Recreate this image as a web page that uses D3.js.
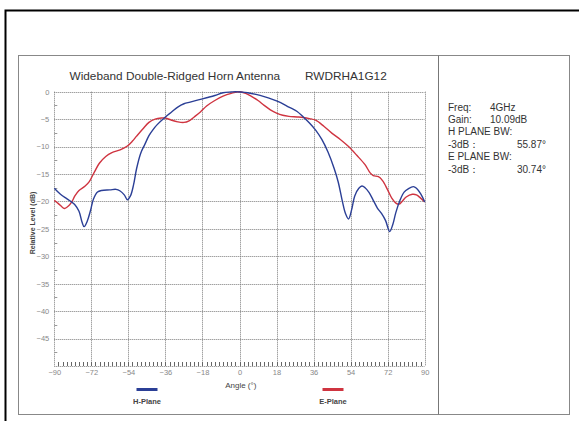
<!DOCTYPE html>
<html><head><meta charset="utf-8">
<script src="https://cdn.jsdelivr.net/npm/d3@7/dist/d3.min.js"></script>
<style>
html,body{margin:0;padding:0;background:#fff;}
svg{display:block;font-family:"Liberation Sans",Arial,sans-serif;}
</style></head>
<body><svg id="c" width="579" height="421"></svg>
<script>
const titleText = "Wideband Double-Ridged Horn Antenna";
const modelText = "RWDRHA1G12";
const xTicks = [-90,-72,-54,-36,-18,0,18,36,54,72,90];
const yTicks = [0,-5,-10,-15,-20,-25,-30,-35,-40,-45];
const hAngles = [-90,-87,-84,-82,-80,-78,-76.5,-75.5,-74,-72.5,-71,-69,-67,-63,-60,-58,-56,-54.5,-53,-51.5,-50,-48,-46,-44,-42,-40,-36,-33,-30,-27,-24,-20,-16,-12,-8,-4,-2,0,4,8,12,16,20,24,28,31,34,37,40,43,46,48,50,51.5,53,54.5,56,58,59.5,61,63,65,67,69,71,73,74.5,76,78,80,82,84.5,86,88,90];
const hValues = [-17.6,-18.7,-19.5,-20.0,-20.6,-21.8,-23.8,-24.6,-23.6,-21.8,-19.6,-18.3,-18.0,-17.9,-17.8,-18.1,-18.8,-19.7,-19.0,-17.0,-14.0,-11.2,-9.6,-8.0,-6.9,-6.0,-4.6,-3.7,-2.8,-2.2,-1.9,-1.5,-1.1,-0.7,-0.2,-0.05,0,-0.05,-0.2,-0.5,-0.9,-1.4,-2.0,-2.8,-3.6,-4.6,-5.7,-7.0,-8.7,-11.0,-14.0,-16.5,-20.0,-22.2,-23.2,-21.5,-19.0,-17.6,-17.2,-17.5,-18.4,-19.8,-21.2,-22.2,-23.5,-25.5,-24.2,-22.0,-19.8,-18.3,-17.7,-17.3,-17.6,-18.6,-20.1];
const eAngles = [-90,-88,-86,-85,-83,-81.5,-80,-78,-75,-73,-71,-68,-65,-62,-58,-54.5,-52,-50,-47,-44,-41,-38,-36,-33,-30,-27,-24.5,-22,-19,-16,-12,-8,-4,0,3,6,9,12,15,18,21,24,28,31,34,37,41,45,49,53,57,61,63.5,65,67.5,69.5,72,74,76,77.5,79,81,84,86,88,90];
const eValues = [-19.8,-20.4,-21.1,-21.3,-20.8,-20.1,-19.0,-18.0,-17.2,-16.4,-15.0,-13.0,-11.8,-11.1,-10.6,-9.9,-9.0,-8.1,-6.8,-5.6,-5.0,-4.8,-4.8,-5.2,-5.5,-5.6,-5.3,-4.6,-3.7,-2.6,-1.6,-0.8,-0.3,0,-0.3,-0.9,-1.6,-2.5,-3.3,-3.9,-4.3,-4.5,-4.6,-4.7,-4.9,-5.2,-6.3,-7.6,-8.7,-10.0,-11.6,-13.3,-14.8,-15.3,-15.5,-16.2,-17.9,-19.4,-20.3,-20.5,-20.0,-19.2,-18.7,-18.8,-19.4,-20.1];
const seriesNames = ["H-Plane","E-Plane"];
const seriesColors = ["#2b3f96","#cf3440"];
const infoLabels = ["Freq:","Gain:","H PLANE BW:","-3dB\uFF1A","E PLANE BW:","-3dB\uFF1A"];
const infoValues = ["4GHz","10.09dB","","55.87\u00B0","","30.74\u00B0"];

const svg = d3.select("#c");
// outer frame
svg.append("rect").attr("x",5.5).attr("y",10.5).attr("width",600).attr("height",420)
  .attr("fill","none").attr("stroke","#000").attr("stroke-width",2);
// inner box
svg.append("rect").attr("x",18.5).attr("y",55.5).attr("width",551).attr("height",359)
  .attr("fill","none").attr("stroke","#888").attr("stroke-width",1);
svg.append("line").attr("x1",438.5).attr("x2",438.5).attr("y1",55.5).attr("y2",414.5)
  .attr("stroke","#777").attr("stroke-width",1);

const x = d3.scaleLinear().domain([-90,90]).range([54.3,424.7]);
const y = d3.scaleLinear().domain([0,-50]).range([91.7,366]);

// grid
const g = svg.append("g");
g.selectAll(".vg").data(xTicks).join("line")
  .attr("x1",d=>Math.round(x(d))+0.5).attr("x2",d=>Math.round(x(d))+0.5)
  .attr("y1",y(0)).attr("y2",y(-50))
  .attr("stroke","#7a7a7a").attr("stroke-width",1).attr("stroke-dasharray","1,1");
g.selectAll(".hg").data(yTicks).join("line")
  .attr("x1",x(-90)).attr("x2",x(90))
  .attr("y1",d=>Math.round(y(d))+0.5).attr("y2",d=>Math.round(y(d))+0.5)
  .attr("stroke","#7a7a7a").attr("stroke-width",1).attr("stroke-dasharray","1,1");
g.append("line").attr("x1",x(-90)).attr("x2",x(90)).attr("y1",Math.round(y(-50))+0.5).attr("y2",Math.round(y(-50))+0.5)
  .attr("stroke","#7a7a7a").attr("stroke-dasharray","1,1");

// y axis
const yAxis = d3.axisLeft(y).tickValues(yTicks).tickSize(0).tickPadding(5).tickFormat(d3.format("d"));
const ya = svg.append("g").attr("transform",`translate(${x(-90)},0)`).call(yAxis);
ya.select(".domain").remove();
ya.selectAll("text").attr("font-size",7.5).attr("fill","#888").attr("font-family","Liberation Sans, Arial, sans-serif");
// y minor ticks
const yMinor = d3.range(-2.5,-50,-5);
svg.selectAll(".ym").data(yMinor).join("line")
  .attr("x1",x(-90)).attr("x2",x(-90)+3)
  .attr("y1",d=>Math.round(y(d))+0.5).attr("y2",d=>Math.round(y(d))+0.5)
  .attr("stroke","#999");

// x axis
const xAxis = d3.axisBottom(x).tickValues(xTicks).tickSize(0).tickPadding(4).tickFormat(d3.format("d"));
const xa = svg.append("g").attr("transform",`translate(0,${y(-50)})`).call(xAxis);
xa.select(".domain").remove();
xa.selectAll("text").attr("font-size",7.5).attr("fill","#888").attr("font-family","Liberation Sans, Arial, sans-serif");
const xMinor = d3.range(-88,90,2);
svg.selectAll(".xm").data(xMinor).join("line")
  .attr("x1",d=>Math.round(x(d))+0.5).attr("x2",d=>Math.round(x(d))+0.5)
  .attr("y1",y(-50)).attr("y2",y(-50)-4)
  .attr("stroke","#666");

// curves
const line = d3.line().x(d=>x(d[0])).y(d=>y(d[1])).curve(d3.curveCatmullRom.alpha(0.5));
const hData = hAngles.map((a,i)=>[a,hValues[i]]);
const eData = eAngles.map((a,i)=>[a,eValues[i]]);
svg.append("path").datum(eData).attr("d",line).attr("fill","none").attr("stroke",seriesColors[1]).attr("stroke-width",1.4);
svg.append("path").datum(hData).attr("d",line).attr("fill","none").attr("stroke",seriesColors[0]).attr("stroke-width",1.4);

// titles
svg.append("text").attr("x",69.5).attr("y",79.5).attr("font-size",11.8).attr("fill","#333").text(titleText);
svg.append("text").attr("x",305).attr("y",79.5).attr("font-size",11.8).attr("fill","#333").text(modelText);
svg.append("text").attr("transform","translate(35,223) rotate(-90)").attr("text-anchor","middle")
  .attr("font-size",7).attr("font-weight","bold").attr("fill","#444").text("Relative Level (dB)");
svg.append("text").attr("x",240.8).attr("y",388).attr("text-anchor","middle")
  .attr("font-size",8).attr("fill","#444").text("Angle (\u00B0)");

// legend
const legX = [147, 333];
seriesNames.forEach((n,i)=>{
  svg.append("line").attr("x1",legX[i]-10.5).attr("x2",legX[i]+10.5).attr("y1",389.5).attr("y2",389.5)
    .attr("stroke",seriesColors[i]).attr("stroke-width",3);
  svg.append("text").attr("x",legX[i]).attr("y",404).attr("text-anchor","middle")
    .attr("font-size",7.5).attr("font-weight","bold").attr("fill","#444").text(n);
});

// info panel
infoLabels.forEach((t,i)=>{
  const yy = 110.5 + i*12.4;
  svg.append("text").attr("x",448).attr("y",yy).attr("font-size",10).attr("fill","#333").text(t);
  if (infoValues[i]) {
    const right = (i===3||i===5);
    svg.append("text").attr("x",right?546:490).attr("y",yy).attr("text-anchor",right?"end":"start")
      .attr("font-size",10).attr("fill","#333").text(infoValues[i]);
  }
});
</script></body></html>
